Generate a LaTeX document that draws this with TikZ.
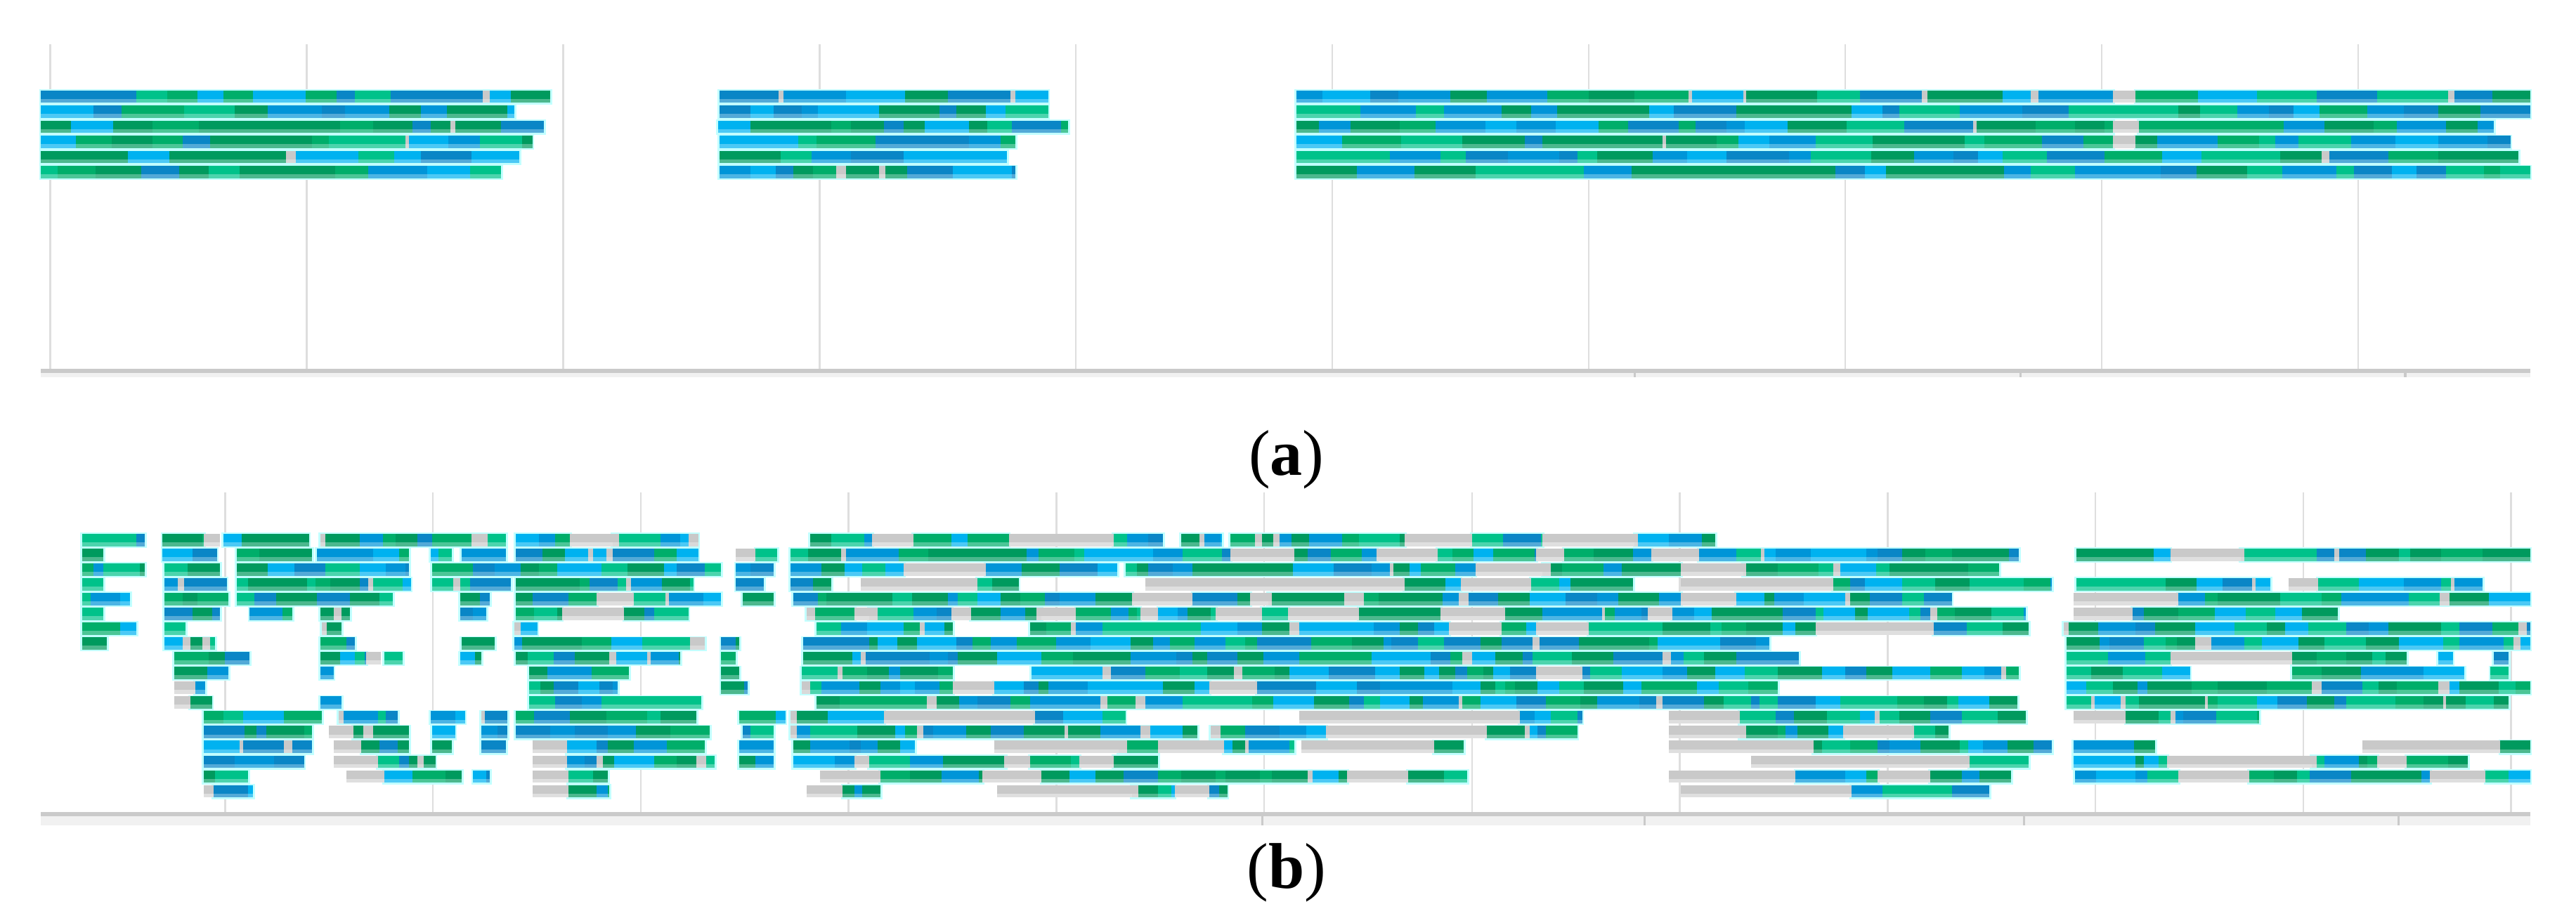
\documentclass[tikz,border=0pt]{standalone}
\usepackage{fontspec}
\setmainfont{Liberation Serif}
\definecolor{gA}{HTML}{009A5E}
\definecolor{gB}{HTML}{00AE6A}
\definecolor{gC}{HTML}{00C28A}
\definecolor{bA}{HTML}{0095D8}
\definecolor{bB}{HTML}{0A86C6}
\definecolor{bC}{HTML}{00B2F0}
\definecolor{rgray}{HTML}{C9C9C9}
\definecolor{halo}{HTML}{C2FFFF}
\definecolor{gridc}{HTML}{DEDEDE}
\definecolor{axisd}{HTML}{CACACA}
\definecolor{axisl}{HTML}{F1F1F1}
\tikzset{
  gridline/.style={draw=gridc,line width=0.8pt},
  axisdark/.style={fill=axisd},
  axislight/.style={fill=axisl},
  axistick/.style={draw=axisd,line width=1pt},
  panellabel/.style={font=\fontsize{28}{30}\selectfont,anchor=base,inner sep=0pt}
}
% random coloured chunks inside one read segment
\newcommand{\readchunks}[6]{% #1 x1, #2 x2, #3 ytop, #4 minlen, #5 maxlen, #6 gray percent
  \pgfmathsetmacro{\xa}{#1}%
  \loop
    \pgfmathrandominteger{\cc}{1}{100}%
    \ifnum\cc>#6\relax
      \pgfmathrandominteger{\len}{#4}{#5}%
      \pgfmathrandominteger{\cd}{1}{7}%
      \ifcase\cd\relax\or\def\col{gA}\or\def\col{gB}\or\def\col{gC}\or\def\col{bA}\or\def\col{bB}\or\def\col{bC}\or\def\col{gA}\fi
    \else
      \pgfmathrandominteger{\len}{2}{6}%
      \def\col{rgray}%
    \fi
    \pgfmathsetmacro{\xb}{min(\xa+\len,#2)}%
    \fill[\col] (\xa,#3) rectangle (\xb,#3+5.2);
    \fill[\col!70!white] (\xa,#3+5.2) rectangle (\xb,#3+7.6);
    \let\xa\xb
  \ifdim\xa pt<#2pt\repeat
}
\newcommand{\drawrow}[5]{% #1 ytop, #2 segments, #3 minlen, #4 maxlen, #5 gray percent
  \foreach \xx/\xy/\ty in {#2}{\if\ty R\fill[halo] (\xx-1.2,#1-0.7) rectangle (\xy+1.2,#1+8.6);\fi}
  \foreach \xx/\xy/\ty in {#2}{\if\ty G\fill[rgray] (\xx,#1) rectangle (\xy,#1+5.2);\fill[rgray!60!white] (\xx,#1+5.2) rectangle (\xy,#1+7.6);\else\readchunks{\xx}{\xy}{#1}{#3}{#4}{#5}\fi}
}
\begin{document}
\begin{tikzpicture}[x=0.025cm,y=-0.025cm]
\useasboundingbox (0,0) rectangle (1568,562);
\pgfmathsetseed{7}
% ---------------- panel (a) ----------------
\foreach \i in {0,...,9}{\draw[gridline] (30.5+156.1*\i,27) -- (30.5+156.1*\i,224.5);}
\fill[axisdark] (25,224.5) rectangle (1540,227);
\fill[axislight] (25,227) rectangle (1540,229.7);
\foreach \t in {995,1230,1464}{\draw[axistick] (\t,227) -- (\t,229.7);}
\drawrow{55}{25/335/R,438/638/R,789/1286/R,1286/1300/G,1300/1540/R}{10}{38}{6}
\drawrow{64.2}{25/313/R,438/638/R,789/1540/R}{10}{38}{6}
\drawrow{73.4}{25/331/R,437/650/R,789/1286/R,1286/1302/G,1302/1518/R}{10}{38}{6}
\drawrow{82.6}{25/324/R,438/618/R,789/1286/R,1286/1300/G,1300/1528/R}{10}{38}{6}
\drawrow{91.8}{25/316/R,438/613/R,789/1533/R}{10}{38}{6}
\drawrow{101}{25/305/R,438/618/R,789/1540/R}{10}{38}{6}
\node[panellabel] (labA) at (783,289.5) {(\textbf{a})};
% ---------------- panel (b) ----------------
\foreach \i in {0,...,11}{\draw[gridline] (137+126.5*\i,300) -- (137+126.5*\i,494.5);}
\fill[axisdark] (25,494.5) rectangle (1540,497);
\fill[axislight] (25,497) rectangle (1540,502.6);
\foreach \t in {768.5,1001,1232,1460}{\draw[axistick] (\t,497) -- (\t,502.6);}
\drawrow{325}{50/88/R,99/124/R,124/134/G,136/188/R,195/308/R,314/347/R,347/373/G,373/425/R,493/531/R,531/556/G,556/614/R,614/678/G,678/708/R,719/744/R,749/855/R,855/896/G,896/939/R,939/995/G,995/1044/R}{5}{25}{10}
\drawrow{334}{50/63/R,99/132/R,144/190/R,193/249/R,262/275/R,281/308/R,314/425/R,448/460/G,460/473/R,481/749/R,749/788/G,788/838/R,838/875/G,875/935/R,935/952/G,952/1005/R,1005/1034/G,1034/1229/R,1264/1321/R,1321/1364/G,1364/1540/R}{5}{25}{10}
\drawrow{343}{50/88/R,100/134/R,144/249/R,263/439/R,448/471/R,481/550/R,550/600/G,600/680/R,685/898/R,898/939/G,939/1023/R,1023/1061/G,1061/1217/R}{5}{25}{10}
\drawrow{352}{50/63/R,100/138/R,144/250/R,263/311/R,314/422/R,448/465/R,481/506/R,524/595/G,595/620/R,697/855/G,855/889/R,889/932/G,932/994/R,1023/1116/G,1116/1249/R,1264/1382/R,1393/1411/G,1411/1511/R}{5}{25}{10}
\drawrow{361}{50/79/R,100/139/R,144/239/R,280/298/R,314/363/R,363/386/G,386/439/R,452/471/R,483/689/R,689/726/G,726/761/R,761/772/G,772/1023/R,1023/1057/G,1057/1188/R,1262/1326/G,1326/1540/R}{5}{25}{10}
\drawrow{370}{50/63/R,100/134/R,152/178/R,195/213/R,280/296/R,314/342/R,342/380/G,380/419/R,491/520/R,520/529/G,529/579/R,579/591/G,591/634/R,634/655/G,655/694/R,694/705/G,705/740/R,740/768/G,768/784/R,784/827/G,827/877/R,877/916/G,916/1003/R,1003/1018/G,1018/1233/R,1262/1298/G,1298/1423/R}{5}{25}{10}
\drawrow{379}{50/83/R,100/113/R,196/208/R,313/327/R,497/580/R,627/882/R,882/914/G,914/935/R,935/967/G,967/1105/R,1105/1177/G,1177/1235/R,1256/1540/R}{5}{25}{10}
\drawrow{388}{50/65/R,100/131/R,195/216/R,281/301/R,313/429/R,439/450/R,489/1077/R,1258/1540/R}{5}{25}{10}
\drawrow{397}{106/152/R,195/223/R,223/232/G,234/245/R,280/293/R,314/414/R,439/448/R,489/1095/R,1258/1321/R,1321/1395/G,1395/1465/R,1484/1493/R,1518/1527/R}{5}{25}{10}
\drawrow{406}{106/139/R,195/203/R,322/383/R,439/450/R,488/580/R,628/935/R,935/963/G,963/1229/R,1258/1333/R,1395/1500/R,1516/1527/R}{5}{25}{10}
\drawrow{415}{106/119/G,119/125/R,322/376/R,439/455/R,488/580/R,580/605/G,605/736/R,736/765/G,765/1082/R,1258/1540/R}{5}{25}{10}
\drawrow{424}{106/116/G,116/129/R,195/208/R,322/427/R,497/1228/R,1258/1527/R}{5}{25}{10}
\drawrow{433}{124/196/R,206/242/R,262/283/R,293/309/R,314/424/R,450/478/R,481/538/R,538/630/G,630/685/R,791/925/G,925/963/R,1016/1059/G,1059/1233/R,1262/1294/G,1294/1375/R}{5}{25}{10}
\drawrow{442}{124/190/R,200/215/G,215/249/R,263/277/R,293/309/R,314/432/R,452/471/R,481/729/R,737/807/R,807/905/G,905/960/R,1016/1059/G,1059/1122/R,1122/1165/G,1165/1186/R}{5}{25}{10}
\drawrow{451}{124/190/R,203/220/G,220/249/R,263/275/R,293/308/R,324/345/G,345/429/R,450/471/R,483/557/R,605/681/G,681/705/R,705/745/G,745/788/R,792/873/G,873/891/R,1016/1104/G,1104/1249/R,1262/1312/R,1438/1522/G,1522/1540/R}{5}{25}{10}
\drawrow{460}{124/185/R,203/230/G,230/265/R,324/345/G,345/435/R,450/471/R,483/520/R,520/529/G,529/612/R,612/627/G,627/657/R,657/678/G,678/705/R,1066/1199/G,1199/1235/R,1262/1319/R,1319/1407/G,1407/1447/R,1447/1465/G,1465/1502/R}{5}{25}{10}
\drawrow{469}{124/151/R,211/234/G,234/281/R,288/298/R,324/346/G,346/370/R,499/536/G,536/598/R,598/634/G,634/820/R,820/857/G,857/893/R,1016/1093/G,1093/1143/R,1143/1175/G,1175/1224/R,1263/1326/R,1326/1369/G,1369/1479/R,1479/1513/G,1513/1540/R}{5}{25}{10}
\drawrow{478}{124/130/G,130/154/R,324/346/G,346/371/R,491/513/G,513/536/R,607/689/G,689/715/R,715/736/G,736/747/R,1023/1127/G,1127/1211/R}{5}{25}{10}
\node[panellabel] (labB) at (783,541) {(\textbf{b})};
\end{tikzpicture}
\end{document}
